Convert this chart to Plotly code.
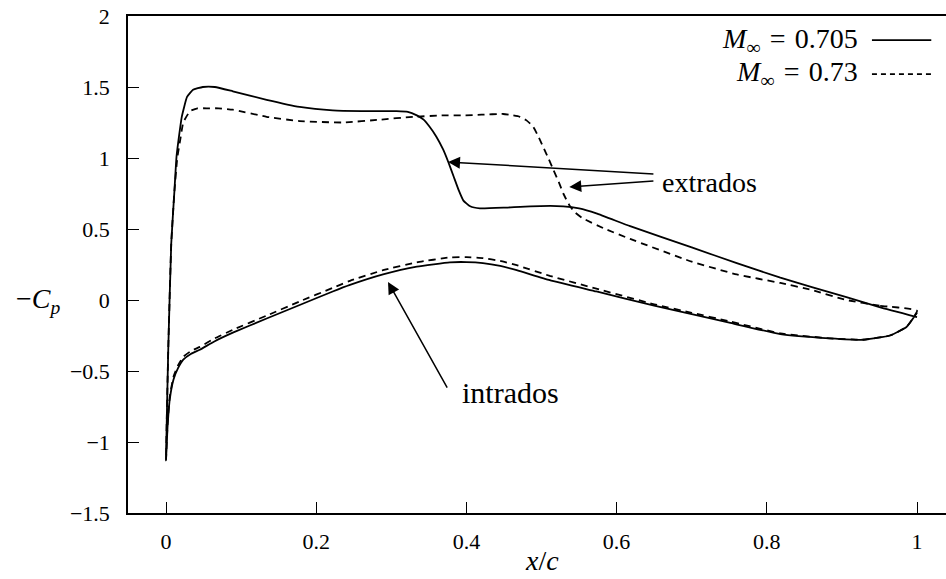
import plotly.graph_objects as go

# Pressure distribution -Cp vs x/c, two free-stream Mach numbers
# M = 0.705 : upper surface (extrados) and lower surface (intrados)
x_up_705 = [0.0, 0.003, 0.007, 0.011, 0.014, 0.018, 0.021, 0.028, 0.036, 0.049, 0.065,
            0.089, 0.134, 0.178, 0.222, 0.26, 0.307, 0.322, 0.334, 0.343, 0.351, 0.36,
            0.369, 0.376, 0.383, 0.39, 0.396, 0.405, 0.418, 0.45, 0.485, 0.529, 0.55,
            0.573, 0.618, 0.7, 0.76, 0.818, 0.86, 0.906, 0.95, 1.0]
cp_up_705 = [-1.13, -0.35, 0.40, 0.75, 1.01, 1.18, 1.29, 1.43, 1.48, 1.50, 1.50,
             1.47, 1.41, 1.36, 1.335, 1.33, 1.33, 1.325, 1.30, 1.27, 1.22, 1.15,
             1.06, 0.97, 0.87, 0.77, 0.70, 0.66, 0.645, 0.65, 0.66, 0.66, 0.645,
             0.61, 0.52, 0.37, 0.26, 0.157, 0.09, 0.02, -0.05, -0.12]

x_low = [0.0, 0.002, 0.005, 0.01, 0.016, 0.023, 0.033, 0.045, 0.065, 0.089, 0.134,
         0.178, 0.222, 0.245, 0.289, 0.334, 0.378, 0.40, 0.422, 0.445, 0.467, 0.511,
         0.573, 0.65, 0.7, 0.75, 0.818, 0.884, 0.928, 0.964, 0.986, 1.0]
cp_low_705 = [-1.13, -0.9, -0.70, -0.56, -0.48, -0.42, -0.38, -0.35, -0.29, -0.23, -0.13,
              -0.035, 0.06, 0.106, 0.18, 0.235, 0.265, 0.267, 0.26, 0.24, 0.21, 0.14,
              0.06, -0.04, -0.10, -0.16, -0.24, -0.27, -0.28, -0.25, -0.19, -0.09]

# M = 0.73
x_up_73 = [0.0, 0.003, 0.007, 0.011, 0.015, 0.019, 0.023, 0.032, 0.042, 0.054, 0.07,
           0.089, 0.134, 0.178, 0.236, 0.285, 0.329, 0.37, 0.396, 0.42, 0.449, 0.462,
           0.471, 0.48, 0.489, 0.495, 0.502, 0.509, 0.516, 0.523, 0.529, 0.538, 0.545,
           0.555, 0.585, 0.618, 0.7, 0.76, 0.818, 0.86, 0.906, 0.95, 1.0]
cp_up_73 = [-1.13, -0.35, 0.40, 0.75, 1.0, 1.13, 1.25, 1.33, 1.35, 1.35, 1.35,
            1.34, 1.29, 1.26, 1.25, 1.27, 1.29, 1.30, 1.30, 1.305, 1.31, 1.30,
            1.29, 1.265, 1.22, 1.16, 1.08, 1.0, 0.915, 0.83, 0.75, 0.66, 0.615,
            0.575, 0.50, 0.43, 0.27, 0.18, 0.12, 0.07, 0.0, -0.04, -0.075]
cp_low_73 = [-1.13, -0.88, -0.68, -0.54, -0.46, -0.40, -0.36, -0.33, -0.27, -0.21, -0.11,
             -0.01, 0.085, 0.135, 0.21, 0.265, 0.30, 0.302, 0.295, 0.275, 0.245, 0.17,
             0.08, -0.03, -0.09, -0.15, -0.235, -0.27, -0.28, -0.25, -0.19, -0.075]

x_ticks = [0, 0.2, 0.4, 0.6, 0.8, 1]
x_tick_text = ["0", "0.2", "0.4", "0.6", "0.8", "1"]
y_ticks = [-1.5, -1, -0.5, 0, 0.5, 1, 1.5, 2]
y_tick_text = ["\u22121.5", "\u22121", "\u22120.5", "0", "0.5", "1", "1.5", "2"]

FONT = "Liberation Serif"


def loop(xu, cu, xl, cl):
    # trailing edge -> upper surface -> leading edge -> lower surface -> trailing edge
    return xu[::-1] + xl[1:], cu[::-1] + cl[1:]


fig = go.Figure()
xs, ys = loop(x_up_705, cp_up_705, x_low, cp_low_705)
fig.add_trace(go.Scatter(x=xs, y=ys, mode="lines",
                         line=dict(color="black", width=1.8, shape="spline", smoothing=0.4),
                         showlegend=False))
xs, ys = loop(x_up_73, cp_up_73, x_low, cp_low_73)
fig.add_trace(go.Scatter(x=xs, y=ys, mode="lines",
                         line=dict(color="black", width=1.8, dash="7px,5px",
                                   shape="spline", smoothing=0.4),
                         showlegend=False))

# Key: label on the left, line sample on the right
SP = "\u2004"
fig.add_annotation(x=0.924, y=1.83, xref="x", yref="y", xanchor="right", yanchor="middle",
                   text="<i>M</i><sub>\u221e</sub>" + SP + "=" + SP + "0.705", showarrow=False,
                   font=dict(family=FONT, size=28, color="black"))
fig.add_annotation(x=0.924, y=1.595, xref="x", yref="y", xanchor="right", yanchor="middle",
                   text="<i>M</i><sub>\u221e</sub>" + SP + "=" + SP + "0.73", showarrow=False,
                   font=dict(family=FONT, size=28, color="black"))
fig.add_shape(type="line", x0=0.94, x1=1.019, y0=1.83, y1=1.83, xref="x", yref="y",
              line=dict(color="black", width=1.8))
fig.add_shape(type="line", x0=0.94, x1=1.019, y0=1.59, y1=1.59, xref="x", yref="y",
              line=dict(color="black", width=1.8, dash="5px,4px"))

# Surface labels with arrows
fig.add_annotation(x=0.658, y=0.824, xref="x", yref="y", xanchor="left", yanchor="middle",
                   text="extrados", showarrow=False,
                   font=dict(family=FONT, size=28, color="black"))
fig.add_annotation(x=0.3755, y=0.972, ax=0.651, ay=0.887, xref="x", yref="y",
                   axref="x", ayref="y", text="", showarrow=True, arrowhead=2,
                   arrowsize=1.6, arrowwidth=1.5, arrowcolor="black")
fig.add_annotation(x=0.537, y=0.796, ax=0.651, ay=0.838, xref="x", yref="y",
                   axref="x", ayref="y", text="", showarrow=True, arrowhead=2,
                   arrowsize=1.6, arrowwidth=1.5, arrowcolor="black")
fig.add_annotation(x=0.391, y=-0.648, xref="x", yref="y", xanchor="left", yanchor="middle",
                   text="intrados", showarrow=False,
                   font=dict(family=FONT, size=30, color="black"))
fig.add_annotation(x=0.2956, y=0.127, ax=0.3755, ay=-0.627, xref="x", yref="y",
                   axref="x", ayref="y", text="", showarrow=True, arrowhead=2,
                   arrowsize=1.6, arrowwidth=1.5, arrowcolor="black")

# Axis titles
fig.add_annotation(x=0.5, y=-1.5, xref="x", yref="y", yshift=-47, xanchor="center",
                   yanchor="middle", text="<i>x</i>/<i>c</i>", showarrow=False,
                   font=dict(family=FONT, size=28, color="black"))
fig.add_annotation(x=0.0, y=0.0, xref="paper", yref="y", xshift=-66, xanchor="right",
                   yanchor="middle", text="\u2212<i>C<sub>p</sub></i>", showarrow=False,
                   font=dict(family=FONT, size=28, color="black"))

fig.update_xaxes(range=[-0.0506, 1.0386], tickvals=x_ticks, ticktext=x_tick_text,
                 ticks="inside", ticklen=11, tickwidth=1, tickcolor="black",
                 showline=True, linecolor="black", linewidth=1.5, mirror=True,
                 showgrid=False, zeroline=False, ticklabelstandoff=8,
                 tickfont=dict(family=FONT, size=22, color="black"))
fig.update_yaxes(range=[-1.5, 2], tickvals=y_ticks, ticktext=y_tick_text,
                 ticks="inside", ticklen=11, tickwidth=1, tickcolor="black",
                 showline=True, linecolor="black", linewidth=1.5, mirror=False,
                 showgrid=False, zeroline=False, ticklabelstandoff=12,
                 tickfont=dict(family=FONT, size=22, color="black"))

fig.update_layout(width=946, height=579, margin=dict(l=128, r=0, t=16, b=66),
                  paper_bgcolor="white", plot_bgcolor="white", showlegend=False,
                  font=dict(family=FONT, color="black"))

fig.write_html("out.html")
